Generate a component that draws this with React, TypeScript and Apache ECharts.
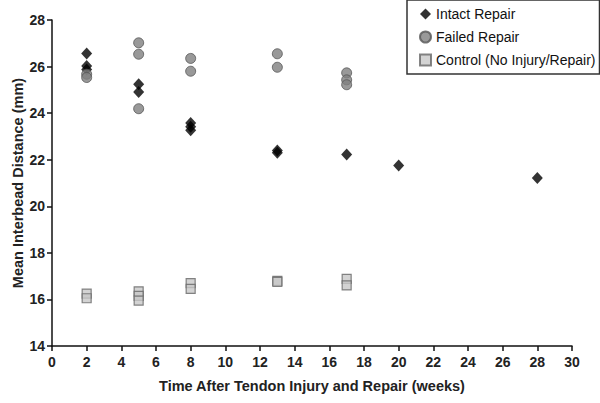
import React, { useEffect, useRef } from "react";
import * as echarts from "echarts";

const seriesNames = ["Intact Repair", "Failed Repair", "Control (No Injury/Repair)"];

const intactRepair: [number, number][] = [
  [2, 26.56], [2, 26.02], [2, 25.87],
  [5, 25.24], [5, 24.91],
  [8, 23.58], [8, 23.42], [8, 23.26],
  [13, 22.4], [13, 22.3],
  [17, 22.22],
  [20, 21.75],
  [28, 21.22],
];

const failedRepair: [number, number][] = [
  [2, 25.67], [2, 25.53],
  [5, 27.02], [5, 26.53], [5, 24.19],
  [8, 26.35], [8, 25.8],
  [13, 26.55], [13, 25.97],
  [17, 25.73], [17, 25.43], [17, 25.22],
];

const control: [number, number][] = [
  [2, 16.25], [2, 16.05],
  [5, 16.35], [5, 16.15], [5, 15.95],
  [8, 16.7], [8, 16.45],
  [13, 16.8], [13, 16.75],
  [17, 16.88], [17, 16.6],
];

const xTitle = "Time After Tendon Injury and Repair (weeks)";
const yTitle = "Mean Interbead Distance (mm)";

export default function App() {
  const ref = useRef<HTMLDivElement>(null);
  useEffect(() => {
    if (!ref.current) return;
    const chart = echarts.init(ref.current, undefined, { renderer: "svg" });
    const font = "Liberation Sans, Arial, sans-serif";
    chart.setOption({
      animation: false,
      backgroundColor: "#fff",
      textStyle: { fontFamily: font },
      grid: { left: 52, right: 28, top: 20, bottom: 57, containLabel: false, outerBoundsMode: "none" },
      legend: {
        orient: "vertical",
        left: 407,
        top: 0,
        padding: [7, 4, 7, 12],
        itemGap: 9,
        itemWidth: 11,
        itemHeight: 11,
        borderColor: "#333",
        borderWidth: 1.5,
        backgroundColor: "#fff",
        textStyle: { fontSize: 14, color: "#111", fontFamily: font },
        data: seriesNames,
      },
      xAxis: {
        type: "value",
        min: 0,
        max: 30,
        interval: 2,
        name: xTitle,
        nameLocation: "middle",
        nameGap: 32,
        nameTextStyle: { fontSize: 14.5, fontWeight: "bold", color: "#222", fontFamily: font },
        axisLine: { show: true, lineStyle: { color: "#111", width: 1.5 } },
        axisTick: { show: true, length: 5, lineStyle: { color: "#111", width: 1.5 } },
        axisLabel: { fontSize: 14, fontWeight: "bold", color: "#222", margin: 9, fontFamily: font },
        splitLine: { show: false },
      },
      yAxis: {
        type: "value",
        min: 14,
        max: 28,
        interval: 2,
        name: yTitle,
        nameLocation: "middle",
        nameGap: 27,
        nameMoveOverlap: false,
        nameRotate: 90,
        nameTextStyle: { fontSize: 14.5, fontWeight: "bold", color: "#222", fontFamily: font },
        axisLine: { show: true, lineStyle: { color: "#111", width: 1.5 } },
        axisTick: { show: true, length: 5, lineStyle: { color: "#111", width: 1.5 } },
        axisLabel: { fontSize: 14, fontWeight: "bold", color: "#222", margin: 7, fontFamily: font },
        splitLine: { show: false },
      },
      series: [
        {
          name: seriesNames[0],
          type: "scatter",
          symbol: "diamond",
          symbolSize: [11, 12],
          itemStyle: { color: "#000" },
          data: intactRepair,
        },
        {
          name: seriesNames[1],
          type: "scatter",
          symbol: "circle",
          symbolSize: 10,
          itemStyle: { color: "#7f7f7f", borderColor: "#555", borderWidth: 1 },
          data: failedRepair,
        },
        {
          name: seriesNames[2],
          type: "scatter",
          symbol: "rect",
          symbolSize: [9, 9],
          itemStyle: { color: "#c8c8c8", borderColor: "#666", borderWidth: 1.2 },
          data: control,
        },
      ],
    });
    return () => chart.dispose();
  }, []);
  return <div ref={ref} style={{ width: 600, height: 403, position: "absolute", left: 0, top: 0 }} />;
}
